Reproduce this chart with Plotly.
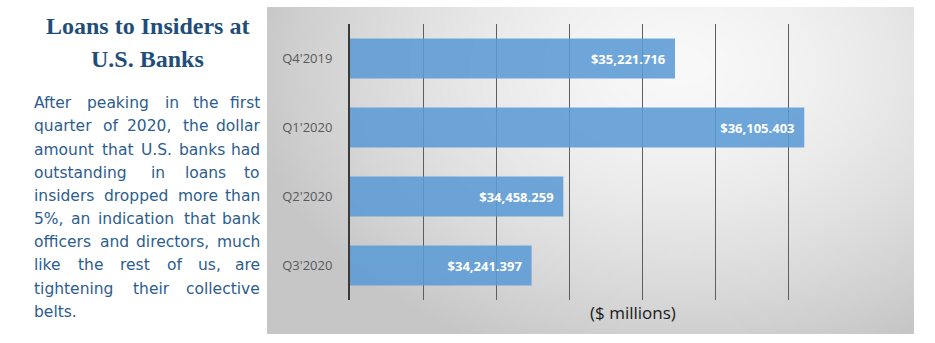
import base64, struct, zlib
import numpy as np
import plotly.graph_objects as go

# ---------------- data ----------------
quarters = ["Q4'2019", "Q1'2020", "Q2'2020", "Q3'2020"]
loans = [35221.716, 36105.403, 34458.259, 34241.397]
labels = ["$35,221.716", "$36,105.403", "$34,458.259", "$34,241.397"]
axis_min, axis_max, grid_step = 33000, 36500, 500

title_lines = ["Loans to Insiders at", "U.S. Banks"]
para_lines = [
    "After peaking in the first",
    "quarter of 2020, the dollar",
    "amount that U.S. banks had",
    "outstanding in loans to",
    "insiders dropped more than",
    "5%, an indication that bank",
    "officers and directors, much",
    "like the rest of us, are",
    "tightening their collective",
    "belts.",
]
unit_label = "($ millions)"

# ---------------- layout geometry (pixels) ----------------
W, H = 935, 343
PL, PR, PT, PB = 350, 862, 24, 300  # plot area


def px(x):
    return (x - PL) / (PR - PL)


def py(y):
    return (PB - y) / (PB - PT)


# approximate DejaVu Sans advance widths (em) used to justify the paragraph
ADV = {
    " ": .318, "a": .613, "b": .635, "c": .550, "d": .635, "e": .615, "f": .352,
    "g": .635, "h": .634, "i": .278, "j": .278, "k": .579, "l": .278, "m": .974,
    "n": .634, "o": .612, "p": .635, "q": .635, "r": .411, "s": .521, "t": .392,
    "u": .634, "v": .592, "w": .818, "x": .592, "y": .592, "z": .525,
    "A": .684, "S": .635, "U": .732, ",": .318, ".": .318, "%": .950,
}


def text_w(s, size):
    return sum(ADV.get(c, .636) for c in s) * size * 1.05


# ---------------- gradient background image ----------------
def gradient_png(w, h):
    yy, xx = np.mgrid[0:h, 0:w]
    u = xx / (w - 1)
    v = yy / (h - 1)
    d = np.sqrt(((u - 0.64) / 0.64) ** 2 + ((v - 0.18) / 0.9) ** 2)
    val = 249 - 46 * np.clip(d, 0, 1.3) ** 1.5
    val = np.clip(val, 198, 250).astype(np.uint8)
    rgb = np.stack([val, val, val], axis=-1)
    raw = b"".join(b"\x00" + rgb[r].tobytes() for r in range(h))

    def chunk(t, data):
        c = struct.pack(">I", len(data)) + t + data
        return c + struct.pack(">I", zlib.crc32(t + data) & 0xFFFFFFFF)

    png = b"\x89PNG\r\n\x1a\n"
    png += chunk(b"IHDR", struct.pack(">IIBBBBB", w, h, 8, 2, 0, 0, 0))
    png += chunk(b"IDAT", zlib.compress(raw, 9))
    png += chunk(b"IEND", b"")
    return "data:image/png;base64," + base64.b64encode(png).decode()


panel_x0, panel_x1, panel_y0, panel_y1 = 267, 914, 7, 334

fig = go.Figure()
fig.add_trace(
    go.Bar(
        y=quarters,
        x=loans,
        orientation="h",
        marker=dict(color="rgba(91,155,213,0.88)", line=dict(width=0)),
        text=labels,
        texttemplate="%{text}\u00a0\u00a0",
        textposition="inside",
        insidetextanchor="end",
        textfont=dict(family="Open Sans", size=13, color="white", weight="bold"),
        cliponaxis=False,
        width=0.58,
        hoverinfo="skip",
    )
)

fig.update_layout(
    width=W,
    height=H,
    margin=dict(l=PL, r=W - PR, t=PT, b=H - PB),
    paper_bgcolor="white",
    plot_bgcolor="rgba(0,0,0,0)",
    showlegend=False,
    xaxis=dict(
        range=[axis_min, axis_max],
        tick0=axis_min,
        dtick=grid_step,
        showticklabels=False,
        showgrid=True,
        gridcolor="#5e5e5e",
        gridwidth=1,
        zeroline=False,
        showline=False,
        ticks="",
        fixedrange=True,
    ),
    yaxis=dict(
        autorange="reversed",
        showgrid=False,
        zeroline=False,
        showline=True,
        linecolor="#3a3a3a",
        linewidth=2,
        ticks="",
        ticklabelstandoff=13,
        tickfont=dict(family="Open Sans", size=13, color="#595959"),
    ),
    images=[
        dict(
            source=gradient_png(161, 81),
            xref="paper",
            yref="paper",
            x=px(panel_x0),
            y=py(panel_y0),
            sizex=px(panel_x1) - px(panel_x0),
            sizey=py(panel_y0) - py(panel_y1),
            xanchor="left",
            yanchor="top",
            sizing="stretch",
            layer="below",
        )
    ],
)

annotations = []
annotations.append(
    dict(
        text=unit_label,
        xref="paper", yref="paper",
        x=px(633), y=py(312),
        xanchor="center", yanchor="middle",
        showarrow=False,
        font=dict(family="Open Sans", size=17, color="#1a1a1a"),
    )
)
for i, t in enumerate(title_lines):
    annotations.append(
        dict(
            text="<b>" + t + "</b>",
            xref="paper", yref="paper",
            x=px(147), y=py(26 + i * 33),
            xanchor="center", yanchor="middle",
            showarrow=False,
            font=dict(family="Liberation Serif", size=24, color="#1f4e79"),
        )
    )

left_px, right_px = 32, 262
line_y0, line_dy = 103.3, 23.15
fs = 15.5
para_font = dict(family="DejaVu Sans", size=fs, color="#2c5d8f")
for li, line in enumerate(para_lines):
    yv = py(line_y0 + li * line_dy)
    words = line.split(" ")
    if li == len(para_lines) - 1 or len(words) == 1:
        annotations.append(
            dict(text=line, xref="paper", yref="paper", x=px(left_px), y=yv,
                 xanchor="left", yanchor="middle", showarrow=False, font=para_font)
        )
        continue
    widths = [text_w(w, fs) for w in words]
    gap = ((right_px - left_px) - sum(widths)) / (len(words) - 1)
    xcur = left_px
    for wi, w in enumerate(words):
        last = wi == len(words) - 1
        annotations.append(
            dict(text=w, xref="paper", yref="paper",
                 x=px(right_px if last else xcur), y=yv,
                 xanchor="right" if last else "left", yanchor="middle",
                 showarrow=False, font=para_font)
        )
        xcur += widths[wi] + gap

fig.update_layout(annotations=annotations)
fig.write_html("out.html")
